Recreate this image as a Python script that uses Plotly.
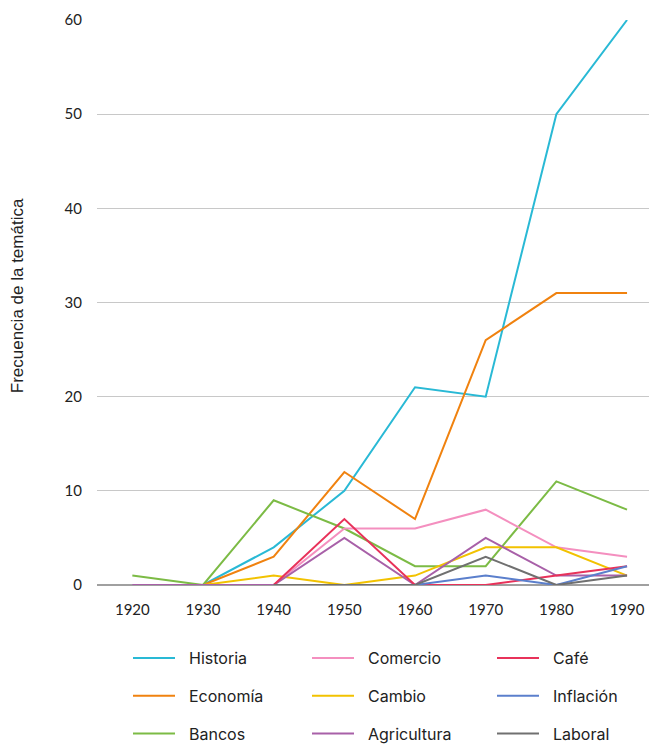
import plotly.graph_objects as go

years = [1920, 1930, 1940, 1950, 1960, 1970, 1980, 1990]

historia    = [None, 0, 4, 10, 21, 20, 50, 60]
economia    = [None, 0, 3, 12, 7, 26, 31, 31]
bancos      = [1, 0, 9, 6, 2, 2, 11, 8]
comercio    = [None, None, 0, 6, 6, 8, 4, 3]
cambio      = [None, 0, 1, 0, 1, 4, 4, 1]
agricultura = [0, 0, 0, 5, 0, 5, 1, 1]
cafe        = [None, None, 0, 7, 0, 0, 1, 2]
inflacion   = [None, None, 0, 0, 0, 1, 0, 2]
laboral     = [None, None, 0, 0, 0, 3, 0, 1]

series = [
    ("Historia", historia, "#29B9D5", "legend"),
    ("Economía", economia, "#F0820F", "legend"),
    ("Bancos", bancos, "#7CBB45", "legend"),
    ("Comercio", comercio, "#F48FBF", "legend2"),
    ("Cambio", cambio, "#F2C200", "legend2"),
    ("Agricultura", agricultura, "#A860A8", "legend2"),
    ("Café", cafe, "#E8325A", "legend3"),
    ("Inflación", inflacion, "#5B7FCC", "legend3"),
    ("Laboral", laboral, "#707070", "legend3"),
]

fig = go.Figure()
for name, vals, color, leg in series:
    fig.add_trace(go.Scatter(
        x=years, y=vals, name="\u00a0\u00a0" + name, mode="lines",
        line=dict(color=color, width=2),
        legend=leg, legendgroup=name, connectgaps=False,
    ))

# page body has an 8px offset, so the figure is sized to fill the rest
OFF = 8
W, H = 657 - OFF, 747 - OFF
left, top, bottom = 97 - OFF, 19.5 - OFF, 585 - OFF

legend_common = dict(
    orientation="v", xref="container", yref="container",
    xanchor="left", yanchor="top", traceorder="grouped",
    tracegroupgap=14, itemwidth=42,
    font=dict(family="Inter, Roboto, sans-serif", size=16, color="#222222"),
    bgcolor="rgba(0,0,0,0)",
)
ly = 1 - 633 / H
fig.update_layout(
    width=W, height=H,
    margin=dict(l=left, r=0, t=top, b=H - bottom, autoexpand=False),
    paper_bgcolor="white", plot_bgcolor="white",
    showlegend=True,
    legend=dict(legend_common, x=120 / W, y=ly),
    legend2=dict(legend_common, x=299 / W, y=ly),
    legend3=dict(legend_common, x=484 / W, y=ly),
    font=dict(family="Open Sans, sans-serif", color="#222222"),
)
fig.update_xaxes(
    range=[1915.0, 1994.24], tickmode="array", tickvals=years,
    ticktext=[str(y) for y in years],
    showgrid=False, zeroline=False, showline=False, ticks="",
    tickfont=dict(family="Lato, sans-serif", size=15, color="#222222"),
    ticklabelstandoff=14,
)
fig.update_yaxes(
    range=[0, 60], tickvals=[0, 10, 20, 30, 40, 50, 60],
    showgrid=True, gridcolor="#C8C8C8", gridwidth=1,
    zeroline=True, zerolinecolor="#A0A0A0", zerolinewidth=1.5,
    showline=False, ticks="",
    tickfont=dict(family="Lato, sans-serif", size=15, color="#222222"),
    ticklabelstandoff=14,
)
plot_w = W - left
plot_h = bottom - top
fig.add_annotation(
    text="Frecuencia de la temática", textangle=-90, showarrow=False,
    xref="paper", yref="paper",
    x=(17 - OFF - left) / plot_w, y=(bottom - (296 - OFF)) / plot_h,
    xanchor="center", yanchor="middle",
    font=dict(family="Liberation Sans, Arial, sans-serif", size=17, color="#222222"),
)

fig.write_html("out.html")
